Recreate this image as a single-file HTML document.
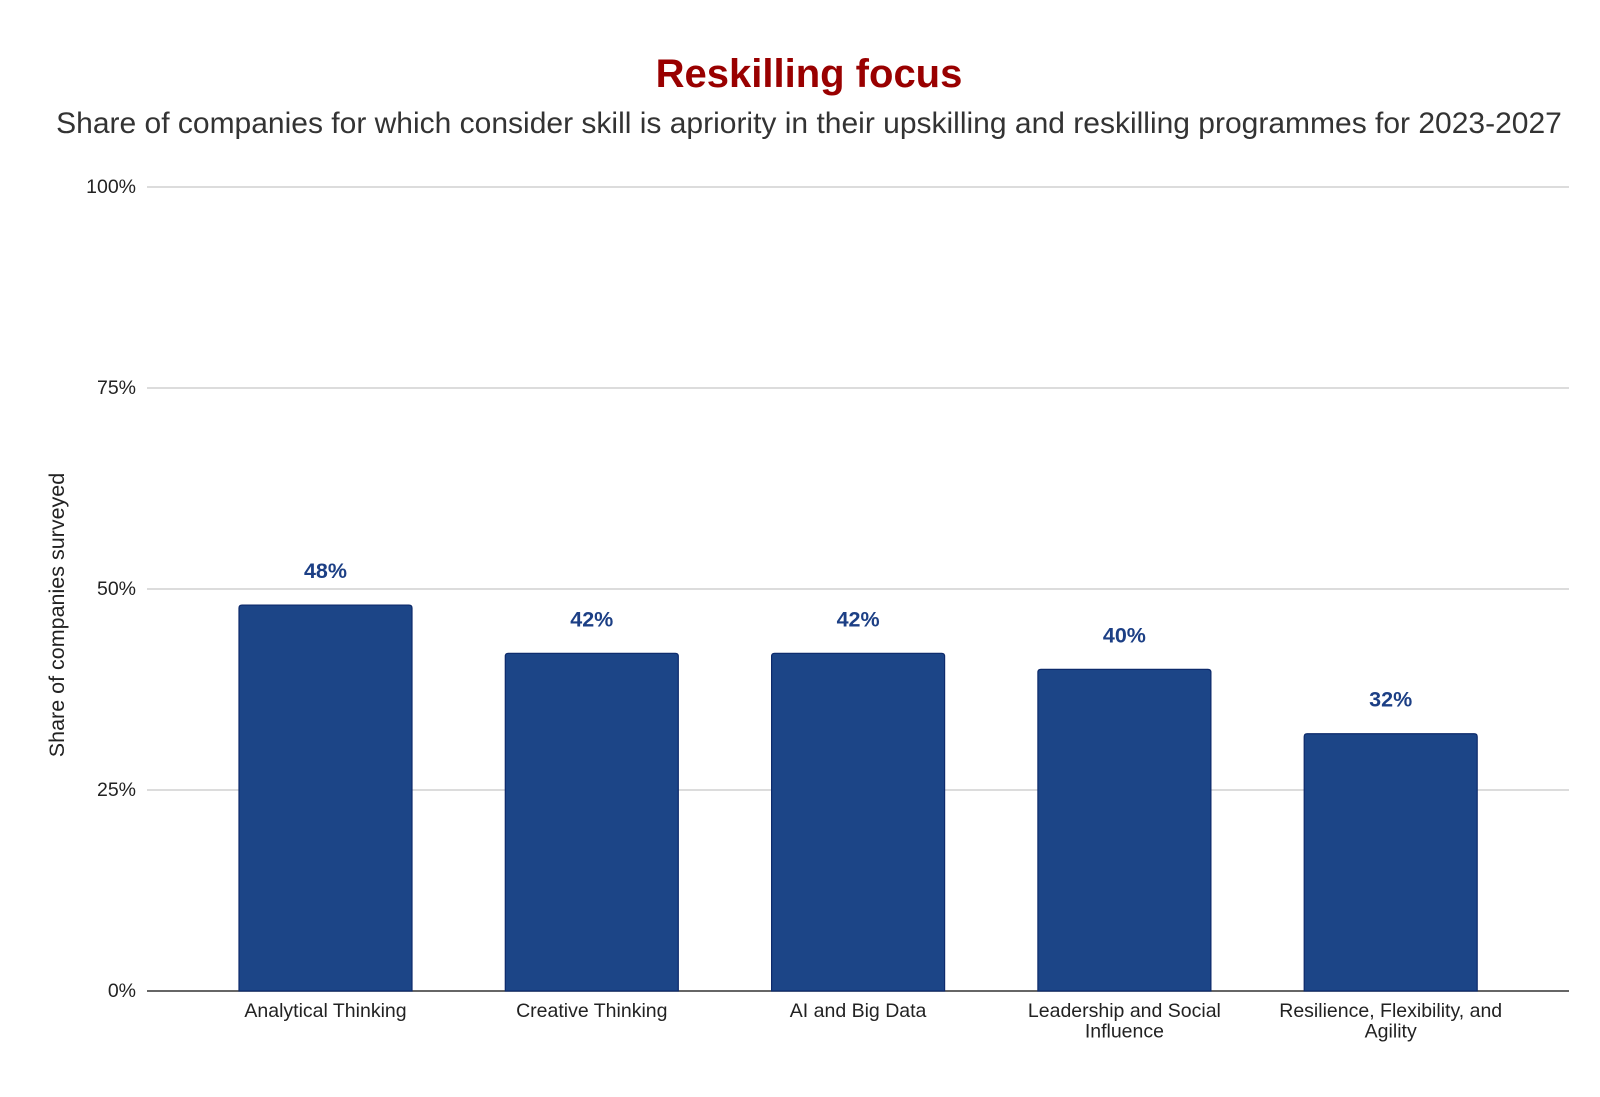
<!DOCTYPE html>
<html><head><meta charset="utf-8"><style>
html,body{margin:0;padding:0;background:#fff;}
svg{display:block;font-family:"Liberation Sans",Arial,sans-serif;}
</style></head><body>
<svg id="chart" width="1600" height="1097" viewBox="0 0 1600 1097" xmlns="http://www.w3.org/2000/svg">
<text x="809" y="87" text-anchor="middle" font-size="40" font-weight="bold" fill="#990000">Reskilling focus</text>
<text x="809" y="133" text-anchor="middle" font-size="30" fill="#333333">Share of companies for which consider skill is apriority in their upskilling and reskilling programmes for 2023-2027</text>
<text transform="translate(64,615) rotate(-90)" text-anchor="middle" font-size="21.5" fill="#222">Share of companies surveyed</text>
<g id="grid"></g><g id="bars"></g><g id="labels"></g>
</svg>
<script>
const categories = [["Analytical Thinking"],["Creative Thinking"],["AI and Big Data"],["Leadership and Social","Influence"],["Resilience, Flexibility, and","Agility"]];
const values = [48,42,42,40,32];
const valueLabels = ["48%","42%","42%","40%","32%"];
const yTicks = [0,25,50,75,100];
const yTickLabels = ["0%","25%","50%","75%","100%"];

const NS="http://www.w3.org/2000/svg";
const x0=147,x1=1569,y0=991,y100=187;
const band=266.3,bandStart=325.5-band/2,barW=173;
function yScale(v){return y0-(v/100)*(y0-y100);}
function xCenter(i){return bandStart+band*(i+0.5);}
function mk(tag,attrs,parent,txt){const e=document.createElementNS(NS,tag);for(const k in attrs)e.setAttribute(k,attrs[k]);if(txt!==undefined)e.textContent=txt;parent.appendChild(e);return e;}
const grid=document.getElementById('grid'),bars=document.getElementById('bars'),labels=document.getElementById('labels');
yTicks.forEach((t,i)=>{
  const y=yScale(t);
  const l=mk('line',{x1:x0,x2:x1,y1:y,y2:y,stroke:t===0?'#333':'#c8c8c8','stroke-width':t===0?1.5:1.3},grid);
  
  
  const tx=mk('text',{x:136,y:y+6,'text-anchor':'end','font-size':19.5,fill:'#222'},grid,yTickLabels[i]);
  
  
});
values.forEach((v,i)=>{
  const cx=xCenter(i),y=yScale(v);
  const r=mk('path',{d:`M${cx-barW/2},${y0} V${y+3} Q${cx-barW/2},${y} ${cx-barW/2+3},${y} H${cx+barW/2-3} Q${cx+barW/2},${y} ${cx+barW/2},${y+3} V${y0} Z`,fill:'#1c4587',stroke:'#0d2a6b','stroke-width':1.2},bars);
  
  
  const vl=mk('text',{x:cx,y:y-27,'text-anchor':'middle','font-size':21.5,'font-weight':'bold',fill:'#1c3f85'},labels,valueLabels[i]);
  
  
  categories[i].forEach((line,j)=>{
    const c=mk('text',{x:cx,y:1017+j*20.5,'text-anchor':'middle','font-size':19.5,fill:'#222'},labels,line);
    
    
  });
});
</script>
</body></html>
